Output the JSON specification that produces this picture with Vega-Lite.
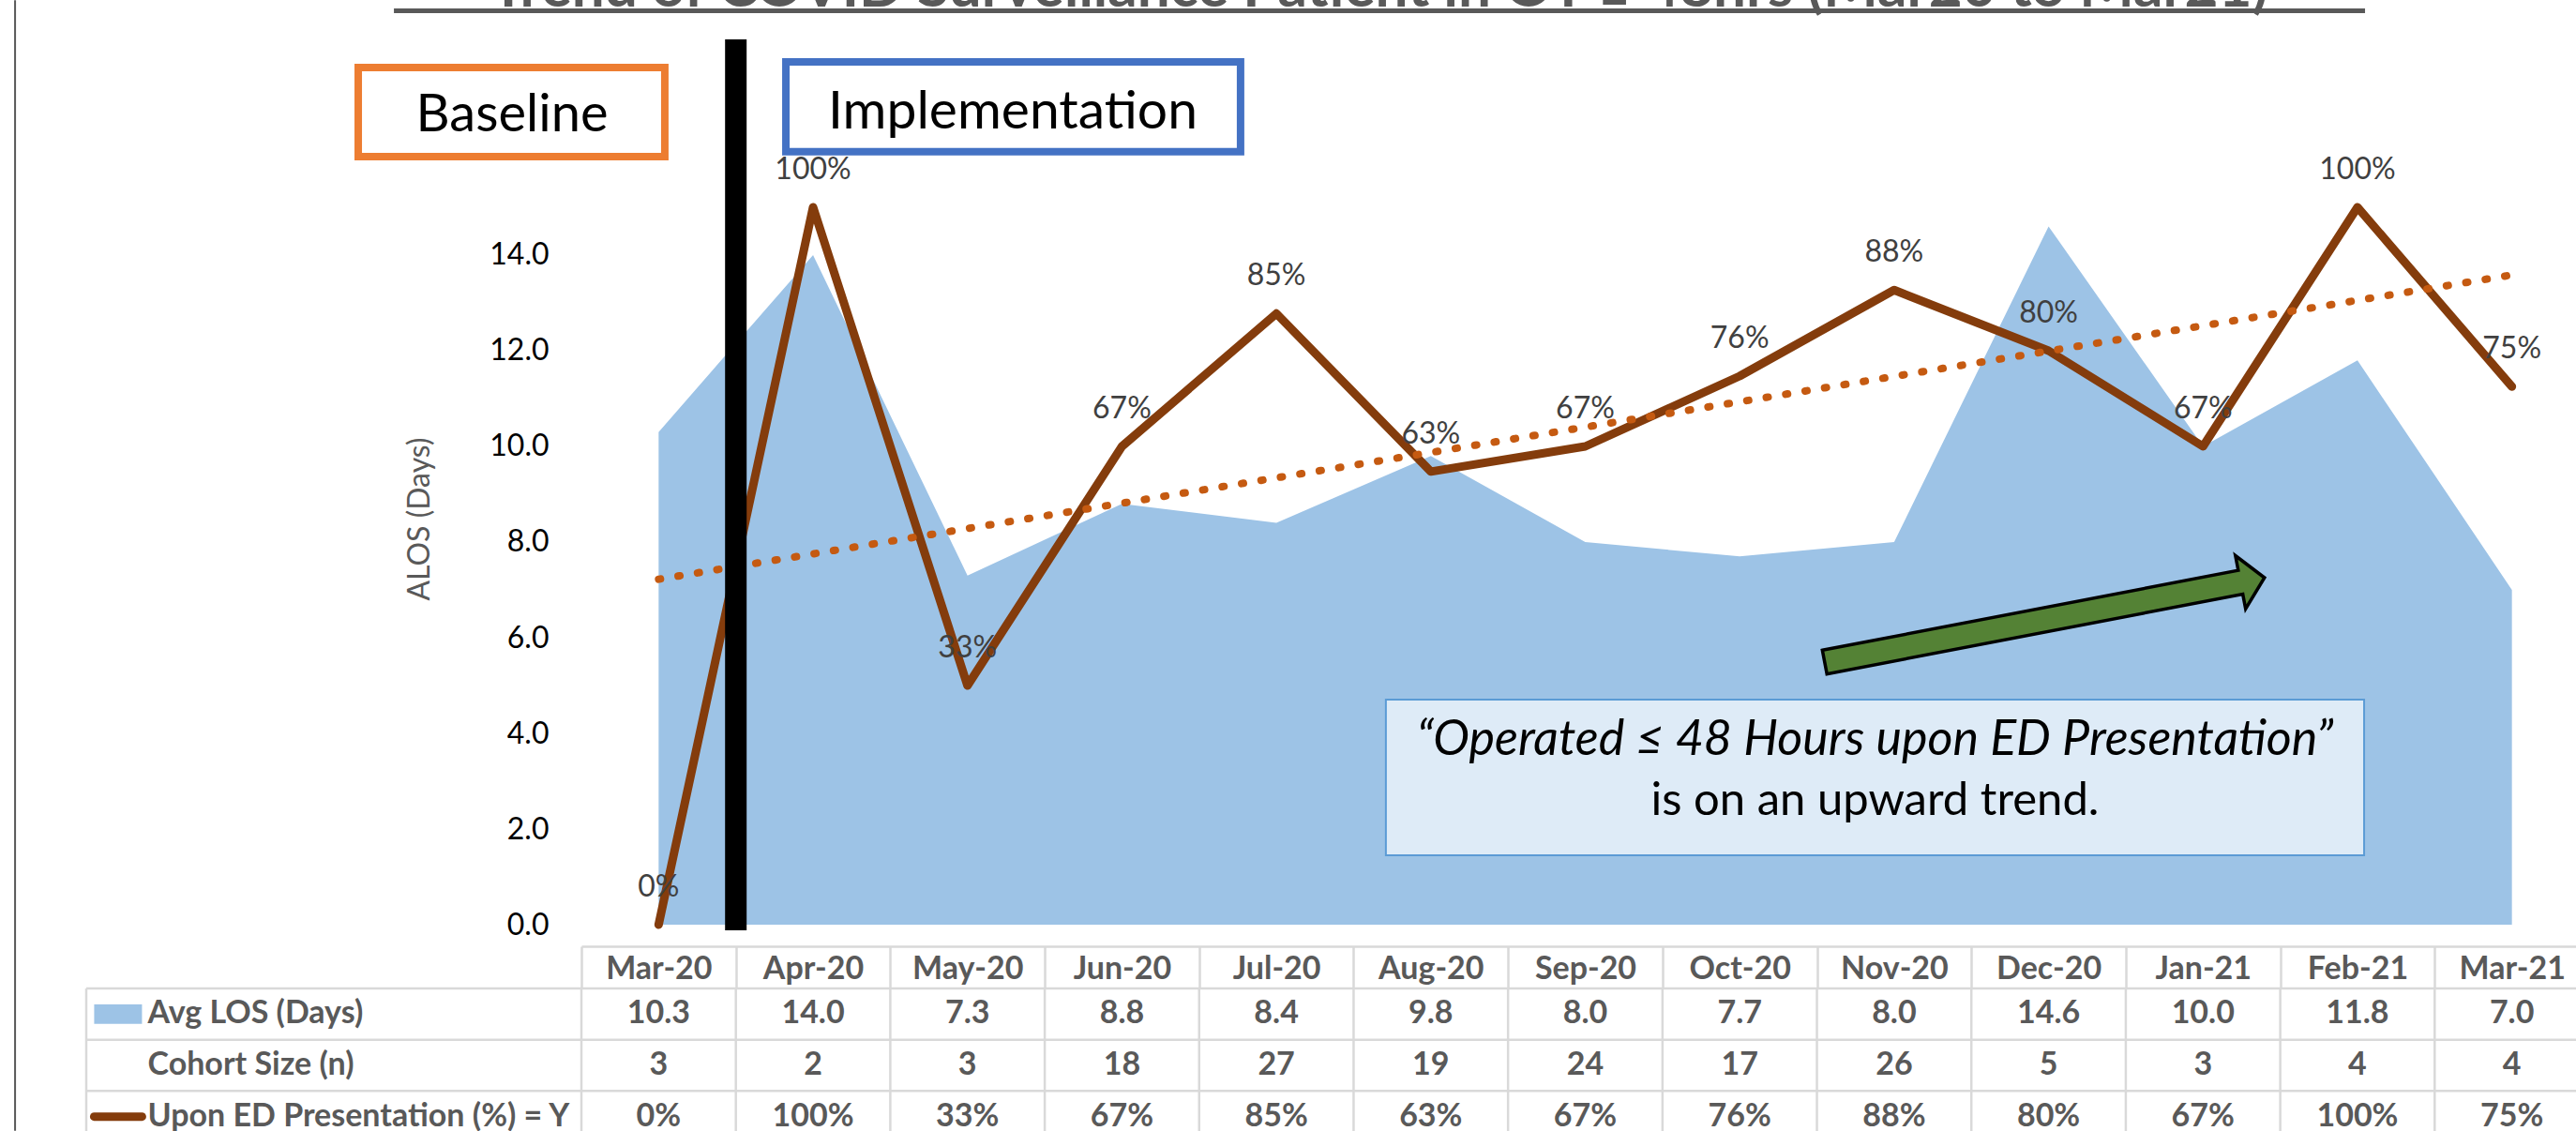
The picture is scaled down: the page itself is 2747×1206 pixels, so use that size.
{
  "$schema": "https://vega.github.io/schema/vega-lite/v6.json",
  "width": 2127,
  "height": 1206,
  "autosize": "none",
  "padding": {"left": 620, "top": 0, "right": 0, "bottom": 0},
  "background": "white",
  "config": {"view": {"stroke": null}, "axis": {"grid": false}},
  "datasets": {
    "main": [
      {"month": "Mar-20", "los": 10.3, "n": 3, "pct": 0},
      {"month": "Apr-20", "los": 14.0, "n": 2, "pct": 1},
      {"month": "May-20", "los": 7.3, "n": 3, "pct": 0.3333},
      {"month": "Jun-20", "los": 8.8, "n": 18, "pct": 0.6667},
      {"month": "Jul-20", "los": 8.4, "n": 27, "pct": 0.8519},
      {"month": "Aug-20", "los": 9.8, "n": 19, "pct": 0.6316},
      {"month": "Sep-20", "los": 8.0, "n": 24, "pct": 0.6667},
      {"month": "Oct-20", "los": 7.7, "n": 17, "pct": 0.7647},
      {"month": "Nov-20", "los": 8.0, "n": 26, "pct": 0.8846},
      {"month": "Dec-20", "los": 14.6, "n": 5, "pct": 0.8},
      {"month": "Jan-21", "los": 10.0, "n": 3, "pct": 0.6667},
      {"month": "Feb-21", "los": 11.8, "n": 4, "pct": 1},
      {"month": "Mar-21", "los": 7.0, "n": 4, "pct": 0.75}
    ],
    "trend": [
      {"month": "Mar-20", "trend": 0.4815},
      {"month": "Mar-21", "trend": 0.9056}
    ],
    "rows": [
      {"row": "Avg LOS (Days)"},
      {"row": "Cohort Size (n)"},
      {"row": "Upon ED Presentation (%) = Y"}
    ]
  },
  "encoding": {
    "x": {
      "field": "month", "type": "ordinal", "bandPosition": 0.5,
      "scale": {"type": "band", "domain": ["Mar-20","Apr-20","May-20","Jun-20","Jul-20","Aug-20","Sep-20","Oct-20","Nov-20","Dec-20","Jan-21","Feb-21","Mar-21"], "range": [0, 2141], "paddingInner": 0, "paddingOuter": 0},
      "axis": {"orient": "bottom", "offset": -197, "title": null, "domain": true, "domainColor": "#D9D9D9", "domainWidth": 2.5, "ticks": true, "tickBand": "extent", "tickSize": 45, "tickColor": "#D9D9D9", "tickWidth": 2.5, "labelFont": "Lato", "labelFontWeight": "bold", "labelFontSize": 34, "labelColor": "#595959", "labelPadding": -21, "labelBaseline": "middle", "labelAngle": 0, "labelOverlap": false}
    }
  },
  "resolve": {"scale": {"y": "independent"}, "axis": {"y": "independent"}},
  "layer": [
    {
      "layer": [
        {
          "data": {"name": "main"},
          "mark": {"type": "area", "color": "#9DC3E6", "opacity": 1},
          "encoding": {
            "y": {"field": "los", "type": "quantitative",
              "scale": {"domain": [-4.3137, 19.3333], "nice": false, "zero": false},
              "axis": {"orient": "left", "values": [0,2,4,6,8,10,12,14], "format": ".1f", "domain": false, "ticks": false, "grid": false, "labelPadding": 35, "labelFont": "Lato", "labelFontSize": 32, "labelColor": "#000000", "labelOverlap": false, "labelFlush": false, "title": "ALOS (Days)", "titleFont": "Lato", "titleFontSize": 32, "titleFontWeight": "normal", "titleColor": "#595959", "titleX": -173, "titleY": 553, "titleAngle": 270, "titleAlign": "center", "titleBaseline": "middle"}},
            "y2": {"datum": 0}
          }
        }
      ]
    },
    {
      "layer": [
        {
          "data": {"name": "main"},
          "mark": {"type": "line", "color": "#843C0C", "strokeWidth": 9, "strokeJoin": "round", "strokeCap": "round"},
          "encoding": {
            "y": {"field": "pct", "type": "quantitative", "scale": {"domain": [-0.28758, 1.28889], "nice": false, "zero": false}, "axis": null}
          }
        },
        {
          "data": {"name": "trend"},
          "mark": {"type": "line", "color": "#C55A11", "strokeWidth": 8, "strokeDash": [2, 19], "strokeCap": "round"},
          "encoding": {
            "y": {"field": "trend", "type": "quantitative", "scale": {"domain": [-0.28758, 1.28889], "nice": false, "zero": false}, "axis": null}
          }
        },
        {
          "data": {"name": "main"},
          "mark": {"type": "text", "font": "Lato", "fontSize": 32, "color": "#404040", "baseline": "middle", "align": "center", "dy": -40},
          "encoding": {
            "y": {"field": "pct", "type": "quantitative", "scale": {"domain": [-0.28758, 1.28889], "nice": false, "zero": false}, "axis": null},
            "text": {"field": "pct", "type": "quantitative", "format": ".0%"}
          }
        }
      ]
    },
    {
      "layer": [
        {
          "data": {"values": [{}]},
          "mark": {"type": "rule", "color": "#595959", "strokeWidth": 2},
          "encoding": {
            "x": {"datum": "Mar-20", "bandPosition": -3.667},
            "y": {"datum": 19.33, "type": "quantitative", "scale": {"domain": [-4.3137, 19.3333], "nice": false, "zero": false}, "axis": null},
            "y2": {"datum": -4.31}
          }
        },
        {
          "data": {"values": [{}]},
          "mark": {"type": "text", "text": "Trend of COVID Surveillance Patient in OT ≤ 48hrs (Mar20 to Mar21)", "font": "Lato", "fontWeight": "bold", "fontSize": 62, "color": "#595959", "align": "center", "baseline": "alphabetic"},
          "encoding": {
            "x": {"datum": "Aug-20", "bandPosition": 0.167},
            "y": {"datum": 19.2, "type": "quantitative", "scale": {"domain": [-4.3137, 19.3333], "nice": false, "zero": false}, "axis": null}
          }
        },
        {
          "data": {"values": [{}]},
          "mark": {"type": "rule", "color": "#595959", "strokeWidth": 5},
          "encoding": {
            "x": {"datum": "Mar-20", "bandPosition": -1.214},
            "x2": {"datum": "Feb-21", "bandPosition": 0.549},
            "y": {"datum": 19.108, "type": "quantitative", "scale": {"domain": [-4.3137, 19.3333], "nice": false, "zero": false}, "axis": null}
          }
        },
        {
          "data": {"values": [{}]},
          "mark": {"type": "rule", "color": "#000000", "strokeWidth": 23},
          "encoding": {
            "x": {"datum": "Apr-20", "bandPosition": 0},
            "y": {"datum": 18.51, "type": "quantitative", "scale": {"domain": [-4.3137, 19.3333], "nice": false, "zero": false}, "axis": null},
            "y2": {"datum": -0.12}
          }
        },
        {
          "data": {"values": [{}]},
          "mark": {"type": "rect", "fill": "#FFFFFF", "stroke": "#ED7D31", "strokeWidth": 8},
          "encoding": {
            "x": {"datum": "Mar-20", "bandPosition": -1.445},
            "x2": {"datum": "Mar-20", "bandPosition": 0.54},
            "y": {"datum": 17.92, "type": "quantitative", "scale": {"domain": [-4.3137, 19.3333], "nice": false, "zero": false}, "axis": null},
            "y2": {"datum": 16.06}
          }
        },
        {
          "data": {"values": [{}]},
          "mark": {"type": "text", "text": "Baseline", "font": "Lato", "fontSize": 56, "color": "#000000", "align": "center", "baseline": "alphabetic"},
          "encoding": {
            "x": {"datum": "Mar-20", "bandPosition": -0.449},
            "y": {"datum": 16.59, "type": "quantitative", "scale": {"domain": [-4.3137, 19.3333], "nice": false, "zero": false}, "axis": null}
          }
        },
        {
          "data": {"values": [{}]},
          "mark": {"type": "rect", "fill": "#FFFFFF", "stroke": "#4472C4", "strokeWidth": 8},
          "encoding": {
            "x": {"datum": "Apr-20", "bandPosition": 0.324},
            "x2": {"datum": "Jul-20", "bandPosition": 0.268},
            "y": {"datum": 18.04, "type": "quantitative", "scale": {"domain": [-4.3137, 19.3333], "nice": false, "zero": false}, "axis": null},
            "y2": {"datum": 16.16}
          }
        },
        {
          "data": {"values": [{}]},
          "mark": {"type": "text", "text": "Implementation", "font": "Lato", "fontSize": 57, "color": "#000000", "align": "center", "baseline": "alphabetic"},
          "encoding": {
            "x": {"datum": "May-20", "bandPosition": 0.793},
            "y": {"datum": 16.65, "type": "quantitative", "scale": {"domain": [-4.3137, 19.3333], "nice": false, "zero": false}, "axis": null}
          }
        },
        {
          "data": {"values": [{}]},
          "mark": {"type": "rect", "fill": "#DEEBF7", "stroke": "#5B9BD5", "strokeWidth": 2},
          "encoding": {
            "x": {"datum": "Aug-20", "bandPosition": 0.209},
            "x2": {"datum": "Feb-21", "bandPosition": 0.543},
            "y": {"datum": 4.706, "type": "quantitative", "scale": {"domain": [-4.3137, 19.3333], "nice": false, "zero": false}, "axis": null},
            "y2": {"datum": 1.451}
          }
        },
        {
          "data": {"values": [{}]},
          "mark": {"type": "text", "text": "“Operated ≤ 48 Hours upon ED Presentation”", "font": "Lato", "fontStyle": "italic", "fontSize": 52, "color": "#000000", "align": "center", "baseline": "alphabetic"},
          "encoding": {
            "x": {"datum": "Nov-20", "bandPosition": 0.376},
            "y": {"datum": 3.549, "type": "quantitative", "scale": {"domain": [-4.3137, 19.3333], "nice": false, "zero": false}, "axis": null}
          }
        },
        {
          "data": {"values": [{}]},
          "mark": {"type": "text", "text": "is on an upward trend.", "font": "Lato", "fontSize": 49, "color": "#000000", "align": "center", "baseline": "alphabetic"},
          "encoding": {
            "x": {"datum": "Nov-20", "bandPosition": 0.376},
            "y": {"datum": 2.294, "type": "quantitative", "scale": {"domain": [-4.3137, 19.3333], "nice": false, "zero": false}, "axis": null}
          }
        },
        {
          "data": {"values": [{}]},
          "mark": {"type": "point", "shape": "M -1 -0.054 L 0.891 -0.054 L 0.891 -0.121 L 1 0 L 0.891 0.121 L 0.891 0.054 L -1 0.054 Z", "size": 228100, "angle": 349.14, "filled": true, "fill": "#548235", "stroke": "#000000", "strokeWidth": 3.5, "opacity": 1},
          "encoding": {
            "x": {"datum": "Dec-20", "bandPosition": 0.474},
            "y": {"datum": 6.373, "type": "quantitative", "scale": {"domain": [-4.3137, 19.3333], "nice": false, "zero": false}, "axis": null}
          }
        }
      ]
    },
    {
      "layer": [
        {
          "data": {"name": "rows"},
          "mark": {"type": "rule", "color": "#D9D9D9", "strokeWidth": 2.5},
          "encoding": {
            "x": {"datum": "Mar-20", "bandPosition": -3.206},
            "x2": {"datum": "Mar-21", "bandPosition": 1},
            "y": {"field": "row", "type": "nominal", "bandPosition": 0,
              "scale": {"type": "band", "domain": ["Avg LOS (Days)", "Cohort Size (n)", "Upon ED Presentation (%) = Y"], "range": [1054, 1218], "paddingInner": 0, "paddingOuter": 0},
              "axis": {"orient": "left", "title": null, "domain": false, "ticks": false, "grid": false, "labelAlign": "left", "labelPadding": 463, "labelFont": "Lato", "labelFontWeight": "bold", "labelFontSize": 34, "labelColor": "#595959", "labelBaseline": "middle", "labelLimit": 0}}
          }
        },
        {
          "data": {"name": "main"},
          "mark": {"type": "rule", "color": "#D9D9D9", "strokeWidth": 2.5},
          "encoding": {
            "x": {"field": "month", "type": "ordinal", "bandPosition": 0},
            "y": {"datum": "Avg LOS (Days)", "type": "nominal", "bandPosition": 0,
              "scale": {"type": "band", "domain": ["Avg LOS (Days)", "Cohort Size (n)", "Upon ED Presentation (%) = Y"], "range": [1054, 1218], "paddingInner": 0, "paddingOuter": 0},
              "axis": {"orient": "left", "title": null, "domain": false, "ticks": false, "grid": false, "labelAlign": "left", "labelPadding": 463, "labelFont": "Lato", "labelFontWeight": "bold", "labelFontSize": 34, "labelColor": "#595959", "labelBaseline": "middle", "labelLimit": 0}},
            "y2": {"datum": "Upon ED Presentation (%) = Y", "bandPosition": 1}
          }
        },
        {
          "data": {"values": [{}]},
          "mark": {"type": "rule", "color": "#D9D9D9", "strokeWidth": 2.5},
          "encoding": {
            "x": {"datum": "Mar-20", "bandPosition": -3.206},
            "y": {"datum": "Avg LOS (Days)", "type": "nominal", "bandPosition": 0,
              "scale": {"type": "band", "domain": ["Avg LOS (Days)", "Cohort Size (n)", "Upon ED Presentation (%) = Y"], "range": [1054, 1218], "paddingInner": 0, "paddingOuter": 0},
              "axis": {"orient": "left", "title": null, "domain": false, "ticks": false, "grid": false, "labelAlign": "left", "labelPadding": 463, "labelFont": "Lato", "labelFontWeight": "bold", "labelFontSize": 34, "labelColor": "#595959", "labelBaseline": "middle", "labelLimit": 0}},
            "y2": {"datum": "Upon ED Presentation (%) = Y", "bandPosition": 1}
          }
        },
        {
          "data": {"name": "main"},
          "mark": {"type": "text", "font": "Lato", "fontWeight": "bold", "fontSize": 34, "color": "#595959", "align": "center", "baseline": "middle"},
          "encoding": {
            "y": {"datum": "Avg LOS (Days)", "type": "nominal", "bandPosition": 0.5,
              "scale": {"type": "band", "domain": ["Avg LOS (Days)", "Cohort Size (n)", "Upon ED Presentation (%) = Y"], "range": [1054, 1218], "paddingInner": 0, "paddingOuter": 0},
              "axis": {"orient": "left", "title": null, "domain": false, "ticks": false, "grid": false, "labelAlign": "left", "labelPadding": 463, "labelFont": "Lato", "labelFontWeight": "bold", "labelFontSize": 34, "labelColor": "#595959", "labelBaseline": "middle", "labelLimit": 0}},
            "text": {"field": "los", "type": "quantitative", "format": ".1f"}
          }
        },
        {
          "data": {"name": "main"},
          "mark": {"type": "text", "font": "Lato", "fontWeight": "bold", "fontSize": 34, "color": "#595959", "align": "center", "baseline": "middle"},
          "encoding": {
            "y": {"datum": "Cohort Size (n)", "type": "nominal", "bandPosition": 0.5,
              "scale": {"type": "band", "domain": ["Avg LOS (Days)", "Cohort Size (n)", "Upon ED Presentation (%) = Y"], "range": [1054, 1218], "paddingInner": 0, "paddingOuter": 0},
              "axis": {"orient": "left", "title": null, "domain": false, "ticks": false, "grid": false, "labelAlign": "left", "labelPadding": 463, "labelFont": "Lato", "labelFontWeight": "bold", "labelFontSize": 34, "labelColor": "#595959", "labelBaseline": "middle", "labelLimit": 0}},
            "text": {"field": "n", "type": "quantitative", "format": "d"}
          }
        },
        {
          "data": {"name": "main"},
          "mark": {"type": "text", "font": "Lato", "fontWeight": "bold", "fontSize": 34, "color": "#595959", "align": "center", "baseline": "middle"},
          "encoding": {
            "y": {"datum": "Upon ED Presentation (%) = Y", "type": "nominal", "bandPosition": 0.5,
              "scale": {"type": "band", "domain": ["Avg LOS (Days)", "Cohort Size (n)", "Upon ED Presentation (%) = Y"], "range": [1054, 1218], "paddingInner": 0, "paddingOuter": 0},
              "axis": {"orient": "left", "title": null, "domain": false, "ticks": false, "grid": false, "labelAlign": "left", "labelPadding": 463, "labelFont": "Lato", "labelFontWeight": "bold", "labelFontSize": 34, "labelColor": "#595959", "labelBaseline": "middle", "labelLimit": 0}},
            "text": {"field": "pct", "type": "quantitative", "format": ".0%"}
          }
        },
        {
          "data": {"values": [{}]},
          "mark": {"type": "point", "shape": "M -1 -0.41 L 1 -0.41 L 1 0.41 L -1 0.41 Z", "size": 2601, "filled": true, "fill": "#9DC3E6", "strokeWidth": 0, "opacity": 1},
          "encoding": {
            "x": {"datum": "Mar-20", "bandPosition": -3.0},
            "y": {"datum": "Avg LOS (Days)", "type": "nominal", "bandPosition": 0.5,
              "scale": {"type": "band", "domain": ["Avg LOS (Days)", "Cohort Size (n)", "Upon ED Presentation (%) = Y"], "range": [1054, 1218], "paddingInner": 0, "paddingOuter": 0},
              "axis": {"orient": "left", "title": null, "domain": false, "ticks": false, "grid": false, "labelAlign": "left", "labelPadding": 463, "labelFont": "Lato", "labelFontWeight": "bold", "labelFontSize": 34, "labelColor": "#595959", "labelBaseline": "middle", "labelLimit": 0}}
          }
        },
        {
          "data": {"values": [{}]},
          "mark": {"type": "point", "shape": "M -1 0 L 1 0", "size": 2601, "filled": false, "stroke": "#843C0C", "strokeWidth": 9, "strokeCap": "round", "opacity": 1},
          "encoding": {
            "x": {"datum": "Mar-20", "bandPosition": -3.0},
            "y": {"datum": "Upon ED Presentation (%) = Y", "type": "nominal", "bandPosition": 0.5,
              "scale": {"type": "band", "domain": ["Avg LOS (Days)", "Cohort Size (n)", "Upon ED Presentation (%) = Y"], "range": [1054, 1218], "paddingInner": 0, "paddingOuter": 0},
              "axis": {"orient": "left", "title": null, "domain": false, "ticks": false, "grid": false, "labelAlign": "left", "labelPadding": 463, "labelFont": "Lato", "labelFontWeight": "bold", "labelFontSize": 34, "labelColor": "#595959", "labelBaseline": "middle", "labelLimit": 0}}
          }
        }
      ]
    }
  ]
}
